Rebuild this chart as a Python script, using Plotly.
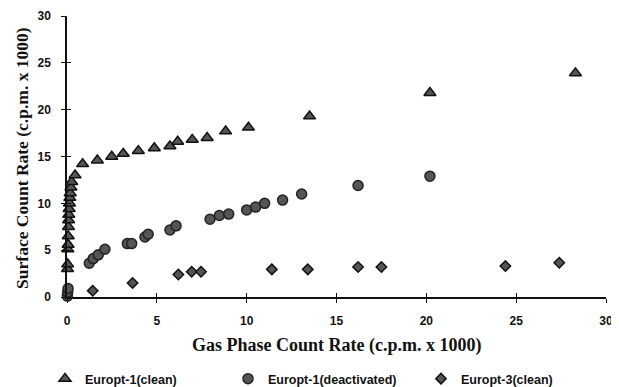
import plotly.graph_objects as go

# Europt-1 (clean)
tri_x = [0.03, 0.04, 0.05, 0.06, 0.07, 0.08, 0.09, 0.10, 0.12, 0.14, 0.16, 0.18, 0.22, 0.26, 0.45,
         0.87, 1.69, 2.49, 3.13, 3.97, 4.86, 5.73, 6.16, 6.97, 7.8, 8.83, 10.1, 13.5, 20.2, 28.3]
tri_y = [3.0, 3.5, 5.1, 5.6, 6.5, 7.5, 8.2, 8.8, 9.4, 10.0, 10.6, 11.1, 11.7, 12.3, 13.0,
         14.2, 14.6, 15.0, 15.3, 15.6, 15.9, 16.1, 16.6, 16.8, 17.0, 17.7, 18.1, 19.3, 21.8, 23.9]

# Europt-1 (deactivated)
circ_x = [0.02, 0.04, 0.06, 1.24, 1.46, 1.74, 2.11, 3.36, 3.6, 4.34, 4.52, 5.73, 6.07,
          7.96, 8.48, 9.0, 10.0, 10.5, 11.0, 12.0, 13.06, 16.2, 20.2]
circ_y = [0.1, 0.5, 0.9, 3.6, 4.1, 4.5, 5.1, 5.7, 5.7, 6.4, 6.7, 7.15, 7.6,
          8.3, 8.7, 8.85, 9.3, 9.6, 10.0, 10.35, 11.0, 11.9, 12.9]

# Europt-3 (clean)
dia_x = [1.43, 3.65, 6.2, 6.94, 7.46, 11.4, 13.4, 16.2, 17.5, 24.4, 27.4]
dia_y = [0.67, 1.5, 2.4, 2.7, 2.7, 2.95, 2.95, 3.2, 3.2, 3.3, 3.66]

names = ["Europt-1(clean)", "Europt-1(deactivated)", "Europt-3(clean)"]
tick_vals = [0, 5, 10, 15, 20, 25, 30]
axis_range = [0, 30]

# page has an 8px body margin, so the figure is sized to fit the 619x387 window
W, H = 611, 379

fig = go.Figure()
fig.add_trace(go.Scatter(x=tri_x, y=tri_y, mode="markers", name=names[0], legend="legend",
                         cliponaxis=False,
                         marker=dict(symbol="triangle-up", size=10.5, color="#555555",
                                     line=dict(color="#111111", width=1.5))))
fig.add_trace(go.Scatter(x=circ_x, y=circ_y, mode="markers", name=names[1], legend="legend2",
                         cliponaxis=False,
                         marker=dict(symbol="circle", size=10, color="#555555",
                                     line=dict(color="#222222", width=1.5))))
fig.add_trace(go.Scatter(x=dia_x, y=dia_y, mode="markers", name=names[2], legend="legend3",
                         cliponaxis=False,
                         marker=dict(symbol="diamond", size=8, color="#555555",
                                     line=dict(color="#111111", width=1.5))))
# invisible helper traces so the overlay axes (inner tick halves) are drawn
fig.add_trace(go.Scatter(x=axis_range, y=axis_range, xaxis="x2", yaxis="y", mode="markers",
                         marker=dict(opacity=0), showlegend=False, hoverinfo="skip"))
fig.add_trace(go.Scatter(x=axis_range, y=axis_range, xaxis="x", yaxis="y2", mode="markers",
                         marker=dict(opacity=0), showlegend=False, hoverinfo="skip"))

tickfont = dict(family="Liberation Sans, Arial", size=12, color="#111111", weight="bold")
legfont = dict(family="Liberation Sans, Arial", size=12.5, color="#111111", weight="bold")

common = dict(range=axis_range, tickvals=tick_vals, ticklen=4, tickwidth=1.2,
              tickcolor="#111111", showgrid=False, zeroline=False, automargin=False)

leg_y = 1 - 371 / H

fig.update_layout(
    width=W, height=H,
    margin=dict(l=59, r=13, t=8, b=90, autoexpand=False),
    plot_bgcolor="white", paper_bgcolor="white",
    xaxis=dict(**common, ticks="outside", showline=True, linecolor="#111111", linewidth=1.5,
               tickfont=tickfont, ticklabelstandoff=8),
    yaxis=dict(**common, ticks="outside", showline=True, linecolor="#111111", linewidth=1.5,
               tickfont=tickfont, ticklabelstandoff=8),
    xaxis2=dict(**common, ticks="inside", overlaying="x", anchor="y", side="bottom",
                showticklabels=False, showline=False),
    yaxis2=dict(**common, ticks="inside", overlaying="y", anchor="x", side="left",
                showticklabels=False, showline=False),
    legend=dict(xref="container", yref="container", x=37 / W, y=leg_y, xanchor="left",
                yanchor="middle", font=legfont, bgcolor="rgba(0,0,0,0)"),
    legend2=dict(xref="container", yref="container", x=220 / W, y=leg_y, xanchor="left",
                 yanchor="middle", font=legfont, bgcolor="rgba(0,0,0,0)"),
    legend3=dict(xref="container", yref="container", x=413 / W, y=leg_y, xanchor="left",
                 yanchor="middle", font=legfont, bgcolor="rgba(0,0,0,0)"),
    annotations=[
        dict(text="Gas Phase Count Rate (c.p.m. x 1000)", xref="paper", yref="paper",
             x=0.5, y=-0.171, xanchor="center", yanchor="middle", showarrow=False,
             font=dict(family="Liberation Serif, Times New Roman", size=18, color="#111111",
                       weight="bold")),
        dict(text="Surface Count Rate (c.p.m. x 1000)", xref="paper", yref="paper",
             x=-0.0835, y=0.495, xanchor="center", yanchor="middle", showarrow=False,
             textangle=-90,
             font=dict(family="Liberation Serif, Times New Roman", size=17.5, color="#111111",
                       weight="bold")),
    ],
)

fig.write_html("out.html")
